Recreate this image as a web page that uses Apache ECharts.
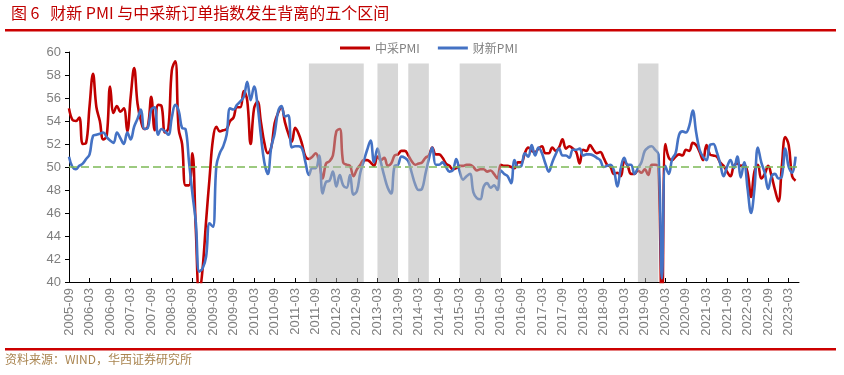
<!DOCTYPE html>
<html>
<head>
<meta charset="utf-8">
<script src="https://cdn.jsdelivr.net/npm/echarts@6/dist/echarts.min.js"></script>
<style>
html,body{margin:0;padding:0;background:#fff;}
#chart{width:844px;height:375px;}
</style>
</head>
<body>
<div id="chart"></div>
<script>
// ---------- data ----------
const titleText = '图 6   财新 PMI 与中采新订单指数发生背离的五个区间';
const sourceText = '资料来源：WIND，华西证券研究所';
const seriesNames = ['中采PMI', '财新PMI'];

// monthly categories 2005-09 … 2023-06
const months = [];
for (let y = 2005, m = 9; months.length < 214; ) {
  months.push(y + '-' + (m < 10 ? '0' + m : '' + m));
  m++; if (m > 12) { m = 1; y++; }
}

// 中采PMI
const cfliPMI = [
  55.1, 54.1, 54.0, 54.3,                                             // 2005 Sep-Dec
  52.0, 52.1, 55.3, 58.1, 55.2, 54.0, 52.4, 52.7, 57.0, 54.7, 55.3, 54.8, // 2006
  55.1, 53.1, 56.1, 58.6, 55.5, 54.0, 53.3, 53.5, 56.1, 53.2, 55.4, 55.3, // 2007
  53.0, 53.4, 58.4, 59.2, 53.3, 52.0, 48.4, 48.4, 51.2, 44.6, 38.8, 41.2, // 2008
  45.3, 49.0, 52.4, 53.5, 53.1, 53.2, 53.3, 54.0, 54.3, 55.2, 55.2, 56.6, // 2009
  55.8, 52.0, 55.1, 55.7, 53.9, 52.1, 51.2, 51.7, 53.8, 54.7, 55.2, 53.9, // 2010
  52.9, 52.2, 53.4, 52.9, 52.0, 50.9, 50.7, 50.9, 51.2, 50.4, 49.0, 50.3, // 2011
  50.5, 51.0, 53.1, 53.3, 50.4, 50.2, 50.1, 49.2, 49.8, 50.2, 50.6, 50.6, // 2012
  50.4, 50.1, 50.9, 50.6, 50.8, 50.1, 50.3, 51.0, 51.1, 51.4, 51.4, 51.0, // 2013
  50.5, 50.2, 50.3, 50.4, 50.8, 51.0, 51.7, 51.1, 51.1, 50.8, 50.3, 50.1, // 2014
  49.8, 49.9, 50.1, 50.1, 50.2, 50.2, 50.0, 49.7, 49.8, 49.8, 49.6, 49.7, // 2015
  49.4, 49.0, 50.2, 50.1, 50.1, 50.0, 49.9, 50.4, 50.4, 51.2, 51.7, 51.4, // 2016
  51.3, 51.6, 51.8, 51.2, 51.2, 51.7, 51.4, 51.7, 52.4, 51.6, 51.8, 51.6, // 2017
  51.3, 50.3, 51.5, 51.4, 51.9, 51.5, 51.2, 51.3, 50.8, 50.2, 50.0, 49.4, // 2018
  49.5, 49.2, 50.5, 50.1, 49.4, 49.4, 49.7, 49.5, 49.8, 49.3, 50.2, 50.2, // 2019
  50.0, 35.7, 52.0, 50.8, 50.6, 50.9, 51.1, 51.0, 51.5, 51.4, 52.1, 51.9, // 2020
  51.3, 50.6, 51.9, 51.1, 51.0, 50.9, 50.4, 50.1, 49.6, 49.2, 50.1, 50.3, // 2021
  50.1, 50.2, 49.5, 47.4, 49.6, 50.2, 49.0, 49.4, 50.1, 49.2, 48.0, 47.0, // 2022
  50.1, 52.6, 51.9, 49.2, 48.8, null                                    // 2023 Jan-Jun
];

// 财新PMI
const caixinPMI = [
  50.9, 50.0, 49.8, 50.1,                                             // 2005 Sep-Dec
  50.3, 50.7, 51.1, 52.7, 52.8, 52.9, 53.0, 52.6, 52.3, 52.1, 53.0, 52.5, // 2006
  52.0, 53.0, 52.4, 53.5, 54.2, 55.0, 53.3, 53.4, 55.0, 55.2, 52.8, 53.3, // 2007
  53.1, 52.8, 54.3, 55.4, 54.9, 53.4, 53.3, 50.5, 47.7, 45.2, 40.9, 41.2, // 2008
  42.2, 45.1, 44.8, 50.1, 51.2, 51.8, 52.8, 55.1, 55.0, 55.4, 55.7, 56.1, // 2009
  57.4, 55.8, 57.0, 55.4, 52.7, 50.4, 49.4, 51.7, 52.9, 54.8, 55.3, 54.4, // 2010
  54.5, 51.7, 51.8, 51.8, 51.6, 50.4, 49.3, 49.9, 49.9, 51.0, 47.7, 48.7, // 2011
  48.8, 49.6, 48.3, 49.3, 48.4, 48.2, 49.3, 47.6, 47.9, 49.5, 50.5, 51.5, // 2012
  52.3, 50.4, 51.6, 50.4, 49.2, 48.2, 47.7, 50.1, 50.2, 50.9, 50.8, 50.5, // 2013
  49.5, 48.5, 48.0, 48.1, 49.4, 50.7, 51.7, 50.2, 50.2, 50.4, 50.0, 49.6, // 2014
  49.7, 50.7, 49.6, 48.9, 49.2, 49.4, 47.8, 47.3, 47.2, 48.3, 48.6, 48.2, // 2015
  48.4, 48.0, 49.7, 49.4, 49.2, 48.6, 50.6, 50.0, 50.1, 51.2, 50.9, 51.9, // 2016
  51.0, 51.7, 51.2, 50.3, 49.6, 50.4, 51.1, 51.6, 51.0, 51.0, 50.8, 51.5, // 2017
  51.5, 51.6, 51.0, 51.1, 51.1, 51.0, 50.8, 50.6, 50.0, 50.1, 50.2, 49.7, // 2018
  48.3, 49.9, 50.8, 50.2, 50.2, 49.4, 49.9, 50.4, 51.4, 51.7, 51.8, 51.5, // 2019
  51.1, 40.3, 50.1, 49.4, 50.7, 51.2, 52.8, 53.1, 53.0, 53.6, 54.9, 53.0, // 2020
  51.5, 50.9, 50.6, 51.9, 52.0, 51.3, 50.3, 49.2, 50.0, 50.6, 49.9, 50.9, // 2021
  49.1, 50.4, 48.1, 46.0, 48.1, 51.7, 50.4, 49.5, 48.1, 49.2, 49.4, 49.0, // 2022
  49.2, 51.6, 50.0, 49.5, 50.9, null                                    // 2023 Jan-Jun
];

// five divergence periods (shaded)
const bandRanges = [
  ['2011-07', '2012-11'],
  ['2013-03', '2013-09'],
  ['2013-12', '2014-06'],
  ['2015-03', '2016-03'],
  ['2019-07', '2020-01']
];
const bandTop = 59;
const neutralLine = 50;
const yMin = 40, yMax = 60, yStep = 2;

// ---------- chart ----------
const chart = echarts.init(document.getElementById('chart'), null, {renderer: 'canvas'});
const cjk = '"Noto Sans CJK SC", "Noto Sans", sans-serif';
const axisFont = '"Liberation Sans", Arial, sans-serif';

const option = {
  animation: false,
  backgroundColor: '#ffffff',
  title: {
    text: titleText,
    left: 6, top: 0,
    textStyle: {color: '#c00000', fontSize: 16, fontWeight: 'normal', fontFamily: cjk}
  },
  legend: {
    data: seriesNames,
    left: 335, top: 37,
    icon: 'rect',
    itemWidth: 30, itemHeight: 3,
    itemGap: 18,
    textStyle: {color: '#7f7f7f', fontSize: 12, fontFamily: cjk}
  },
  graphic: [
    {type: 'rect', left: 5, top: 29, shape: {width: 831, height: 2.5}, style: {fill: '#cc0000'}},
    {type: 'rect', left: 5, top: 348, shape: {width: 831, height: 2.5}, style: {fill: '#cc0000'}},
    {type: 'text', left: 5, top: 353, style: {text: sourceText, fill: '#a9844f', fontSize: 12, fontFamily: cjk}}
  ],
  grid: {left: 69, right: 45, top: 52, bottom: 93, containLabel: false},
  xAxis: {
    type: 'category',
    data: months,
    boundaryGap: false,
    axisLine: {lineStyle: {color: '#000', width: 1}},
    axisTick: {show: true, inside: true, length: 4, interval: 5, lineStyle: {color: '#000'}},
    axisLabel: {interval: 5, rotate: 90, margin: 6, color: '#7f7f7f', fontSize: 13, fontFamily: axisFont},
    splitLine: {show: false}
  },
  yAxis: {
    type: 'value',
    min: yMin, max: yMax, interval: yStep,
    axisLine: {show: true, lineStyle: {color: '#000', width: 1}},
    axisTick: {show: true, length: 4, lineStyle: {color: '#000'}},
    axisLabel: {margin: 8, color: '#7f7f7f', fontSize: 13, fontFamily: axisFont},
    splitLine: {show: false}
  },
  series: [
    {
      name: seriesNames[0],
      type: 'line',
      data: cfliPMI,
      smooth: 0.4,
      showSymbol: false,
      clip: true,
      z: 2,
      lineStyle: {color: '#c00000', width: 2.6},
      itemStyle: {color: '#c00000'},
      markLine: {
        z: 3,
        silent: true,
        symbol: ['none', 'none'],
        label: {show: false},
        lineStyle: {color: '#7cb955', width: 1.5, type: [8, 4]},
        data: [{yAxis: neutralLine}]
      }
    },
    {
      name: seriesNames[1],
      type: 'line',
      data: caixinPMI,
      smooth: 0.4,
      showSymbol: false,
      clip: true,
      z: 2,
      lineStyle: {color: '#4472c4', width: 2.6},
      itemStyle: {color: '#4472c4'},
      markArea: {
        z: 10,
        silent: true,
        itemStyle: {color: 'rgba(178,178,178,0.52)', borderWidth: 0},
        data: bandRanges.map(function (r) {
          return [{xAxis: r[0], yAxis: yMin}, {xAxis: r[1], yAxis: bandTop}];
        })
      }
    }
  ]
};
chart.setOption(option);
</script>
</body>
</html>
